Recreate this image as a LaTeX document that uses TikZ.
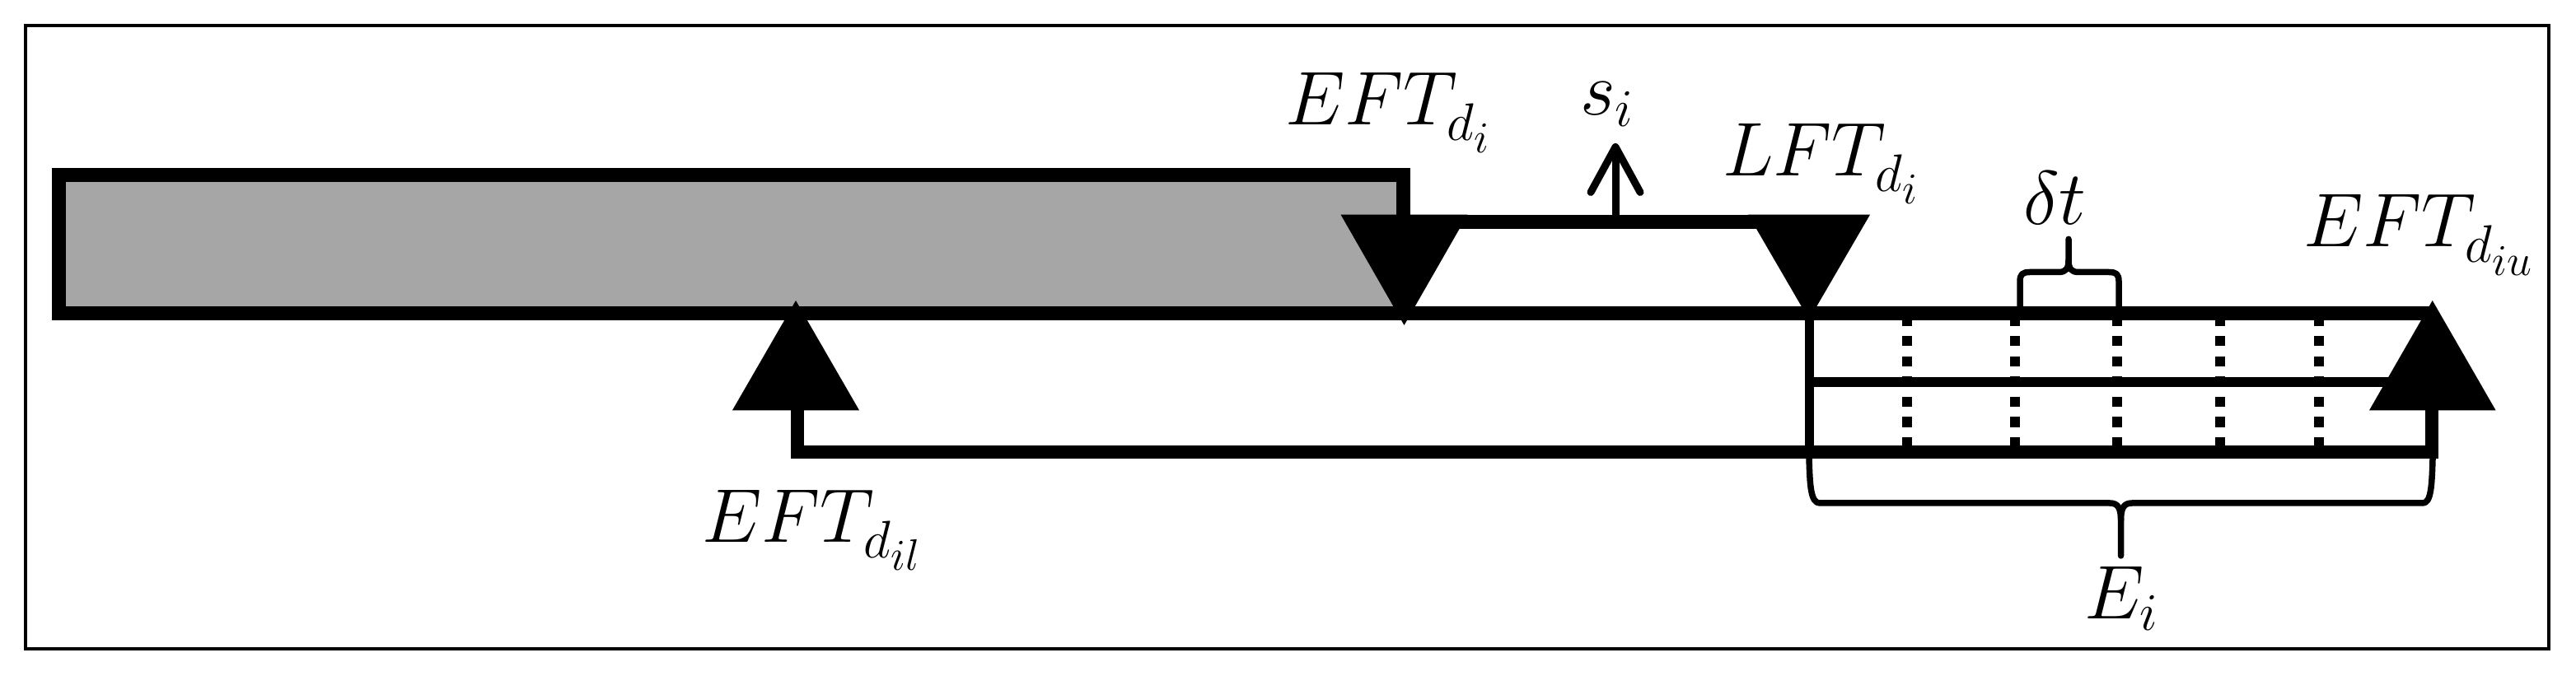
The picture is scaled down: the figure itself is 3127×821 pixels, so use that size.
\documentclass[tikz,border=0pt]{standalone}
\usetikzlibrary{arrows.meta}
\definecolor{bargray}{HTML}{A6A6A6}
\newcommand{\dsub}[1]{\lower1.1pt\hbox{$\scriptstyle d_{\lower1.3pt\hbox{$\scriptscriptstyle #1$}}$}}
\tikzset{
  thickline/.style={line width=3.4pt, line join=miter},
  lowline/.style={line width=3.3pt, line join=miter},
  thinframe/.style={line width=0.8pt},
  triangfill/.style={fill=black},
  dotline/.style={line width=2.4pt, dash pattern=on 2.46pt off 2.46pt},
  midline/.style={line width=2.4pt},
  vline/.style={line width=2.2pt},
  bracepath/.style={line width=1.5pt, line join=round, line cap=round},
  lbl/.style={inner sep=0pt, outer sep=0pt, anchor=base west, font=\huge, scale=0.892},
  sarrow/.style={line width=1.8pt, -{Straight Barb[length=11pt,width=12pt,round]}},
}
\begin{document}
\begin{tikzpicture}[x=0.2pt,y=-0.2pt]
\useasboundingbox (0,0) rectangle (3127,821);
% frame
\draw[thinframe] (31.3,31) rectangle (3094,788);
% key points
\coordinate (bl) at (71.3,380.5);
\coordinate (tl) at (71.3,213);
\coordinate (tr) at (1703.5,213);
\coordinate (ur) at (1703.5,269.5);
\coordinate (lftu) at (2196,269.5);
\coordinate (mainR) at (2952,380.5);
\coordinate (barBR) at (1703.5,380.5);
\coordinate (lftm) at (2196,380.5);
\coordinate (lftb) at (2196,549);
\coordinate (ilb) at (968,498.3);
\coordinate (ilc) at (968,549);
\coordinate (iuc) at (2952,549);
\coordinate (iub) at (2952,498.3);
\coordinate (midL) at (2196,464);
\coordinate (midR) at (2945,464);
\coordinate (siA) at (1961,269.5);
\coordinate (siB) at (1961,174);
% gray bar
\fill[bargray] (tl) rectangle (barBR);
% outline of bar, upper line and main line
\draw[thickline] (lftu) -- (ur) -- (tr) -- (tl) -- (bl) -- (mainR);
% lower line
\draw[lowline] (ilb) -- (ilc) -- (iuc) -- (iub);
% vertical line below LFT
\draw[vline] (lftm) -- (lftb);
% dotted lines
\foreach \x in {2315,2446,2570,2695,2814.5}
  \draw[dotline] (\x,383.5) -- (\x,549);
% middle line
\draw[midline] (midL) -- (midR);
% triangles
\fill[triangfill] (1627.5,260.7) -- (1781.5,260.7) -- (1704.5,395) -- cycle;
\fill[triangfill] (2122,260.7) -- (2270,260.7) -- (2196,388) -- cycle;
\fill[triangfill] (889,498.3) -- (1043,498.3) -- (966,365) -- cycle;
\fill[triangfill] (2876,498.3) -- (3029.5,498.3) -- (2952.7,365) -- cycle;
% s_i arrow
\draw[sarrow] (siA) -- (siB);
% delta t brace
\draw[bracepath] (2452,373) -- (2452,342) .. controls (2452,333) and (2455,330.5) .. (2464,330.5)
  -- (2499,330.5) .. controls (2508,330.5) and (2511,326) .. (2511,316) -- (2511,290.4);
\draw[bracepath] (2511,316) .. controls (2511,326) and (2514,330.5) .. (2523,330.5)
  -- (2560,330.5) .. controls (2569,330.5) and (2572,333) .. (2572,342) -- (2572,373);
% E_i brace
\draw[bracepath] (2196,557) .. controls (2197,590) and (2198,611) .. (2209,611)
  -- (2561,611) .. controls (2571,611) and (2574.5,617) .. (2574.5,632) -- (2574.5,675);
\draw[bracepath] (2574.5,632) .. controls (2574.5,617) and (2578,611) .. (2588,611)
  -- (2941,611) .. controls (2951,611) and (2952,590) .. (2953,557);
% labels
\node[lbl] (eftdi) at (1560,151.7) {$EFT_{\dsub{i}}$};
\node[lbl] (si) at (1918,140) {$s_i$};
\node[lbl] (lftdi) at (2091,213.3) {$LFT_{\dsub{i}}$};
\node[lbl] (dt) at (2456,273) {$\delta t$};
\node[lbl] (eftdiu) at (2796,300) {$EFT_{\dsub{iu}}$};
\node[lbl] (eftdil) at (852,658.3) {$EFT_{\dsub{il}}$};
\node[lbl] (Ei) at (2530,751.8) {$E_i$};
\end{tikzpicture}
\end{document}
